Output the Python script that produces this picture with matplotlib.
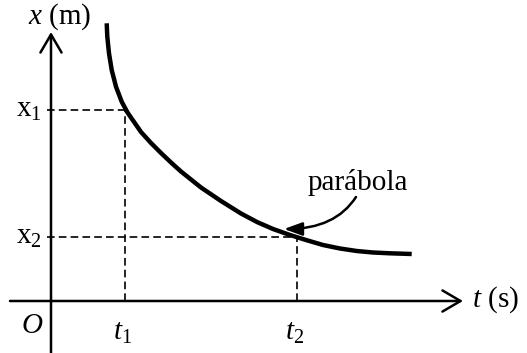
import matplotlib
matplotlib.use("Agg")
import matplotlib.pyplot as plt

plt.rcParams["font.family"] = ["Liberation Serif", "DejaVu Serif"]
plt.rcParams["mathtext.fontset"] = "custom"
plt.rcParams["mathtext.rm"] = "Liberation Serif"
plt.rcParams["mathtext.it"] = "Liberation Serif:italic"
plt.rcParams["lines.scale_dashes"] = False

# curve (t along horizontal, x along vertical)
curve_t = [55.7, 56.3, 58, 60.7, 65, 70.7, 76.5, 90, 100, 110, 120, 130, 150,
           170, 190, 206, 222, 239, 255, 272, 289, 305.7, 322, 339, 360.7]
curve_x = [277.7, 264.3, 247.7, 231, 214.3, 199.3, 188.5, 169, 158, 148, 138.5,
           129.5, 113.5, 100, 87.5, 79, 72, 66, 61, 56, 52.5, 50, 48.5, 47.7, 47]

t_marks = [74, 246]
x_marks = [191, 64.5]
t_labels = ["$t_1$", "$t_2$"]
x_labels = [r"$\mathrm{x}_1$", r"$\mathrm{x}_2$"]

t_axis = [-41, 412]
x_axis = [-52, 269]

label_pos = (307, 118)
label_target = (233, 72)

fig = plt.figure(figsize=(5.27, 3.53), dpi=100)
ax = fig.add_axes([0, 0, 1, 1])
ax.set_xlim(-51, 476)
ax.set_ylim(-52, 301)
ax.axis("off")

fs = 21

# axes with open arrow heads
arrow_kw = dict(arrowstyle="->,head_length=0.65,head_width=0.38", lw=1.8,
                color="black", mutation_scale=20, shrinkA=0, shrinkB=0)
ax.annotate("", xy=(t_axis[1], 0), xytext=(t_axis[0], 0), arrowprops=arrow_kw)
ax.annotate("", xy=(0, x_axis[1]), xytext=(0, x_axis[0]), arrowprops=arrow_kw)

# dashed guide lines
for tm, xm in zip(t_marks, x_marks):
    ax.plot([-4, tm], [xm, xm], color="black", lw=1.2, dashes=(5.5, 3))
    ax.plot([tm, tm], [0, xm], color="black", lw=1.2, dashes=(5.5, 3))

# the curve
ax.plot(curve_t, curve_x, color="black", lw=3.2, solid_capstyle="butt",
        solid_joinstyle="round")

# labels
ax.text(-23, 284, "$x$ (m)", fontsize=fs, ha="left", va="center")
ax.text(421, 1, "$t$ (s)", fontsize=fs, ha="left", va="center")
ax.text(-19, -25, "$O$", fontsize=fs, ha="center", va="center")
for tm, lab in zip(t_marks, t_labels):
    ax.text(tm - 2, -32, lab, fontsize=fs, ha="center", va="center")
for xm, lab in zip(x_marks, x_labels):
    ax.text(-9, xm, lab, fontsize=fs, ha="right", va="center")

ax.text(label_pos[0], label_pos[1], "parábola", fontsize=fs, ha="center", va="center")
ax.annotate("", xy=label_target, xytext=(label_pos[0] - 2, label_pos[1] - 14),
            arrowprops=dict(arrowstyle="-|>,head_length=0.55,head_width=0.2",
                            lw=1.8, color="black", mutation_scale=20,
                            shrinkA=0, shrinkB=0,
                            connectionstyle="angle3,angleA=57,angleB=0"))

fig.savefig("out.png", dpi=100)
